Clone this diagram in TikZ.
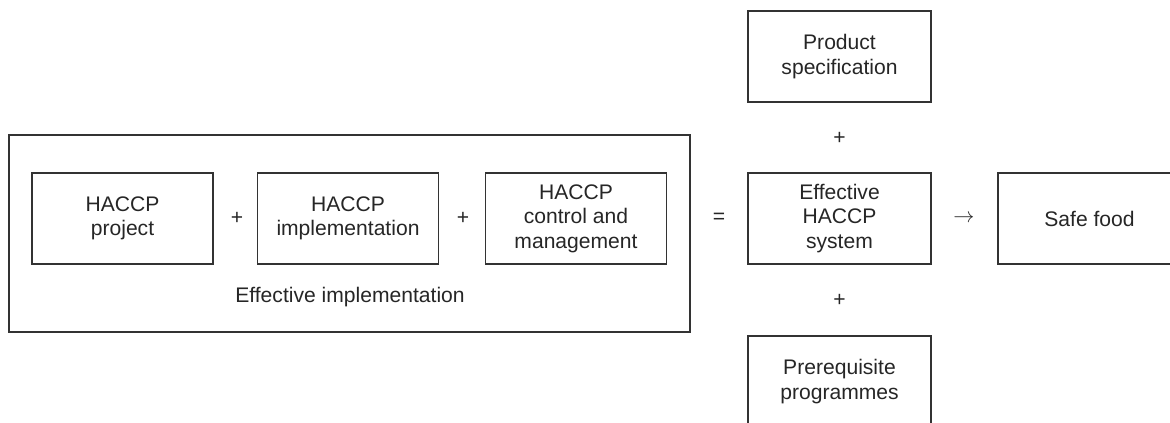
\documentclass[tikz,border=0pt]{standalone}
\usepackage{fontspec}
\setmainfont{Liberation Sans}
\usepackage{tikz}

\begin{document}
\begin{tikzpicture}[font=\fontsize{12}{14}\selectfont, text=black!85,
  box/.style={draw=black!80, line width=0.6pt, align=center, inner sep=0pt,
    minimum width=3.62cm, minimum height=1.82cm},
  sidebox/.style={box, minimum width=3.66cm}]
\useasboundingbox (0,0) rectangle (23.4,8.46);
%outer frame
\node [draw=black!80, line width=0.6pt, minimum width=13.62cm, minimum height=3.94cm, inner sep=0pt] (impl) at (6.99,3.79) {};
\node (impllabel) at (7.0,2.52) {Effective implementation};
%left boxes
\node [box] (project) at (2.45,4.09) {HACCP\\project};
\node (plusa) at (4.74,4.09) {+};
\node [box] (implement) at (6.96,4.09) {HACCP\\implementation};
\node (plusb) at (9.26,4.09) {+};
\node [box] (control) at (11.52,4.09) {HACCP\\control and\\management};
\node (equals) at (14.38,4.09) {=};
%right column
\node [sidebox] (spec) at (16.79,7.33) {Product\\specification};
\node (plusc) at (16.79,5.7) {+};
\node [sidebox] (system) at (16.79,4.09) {Effective\\HACCP\\system};
\node (plusd) at (16.79,2.46) {+};
\node [sidebox] (prereq) at (16.79,0.83) {Prerequisite\\programmes};
\node (arrow) at (19.28,4.09) {$\rightarrow$};
\node [sidebox] (food) at (21.79,4.09) {Safe food};
\end{tikzpicture}
\end{document}
